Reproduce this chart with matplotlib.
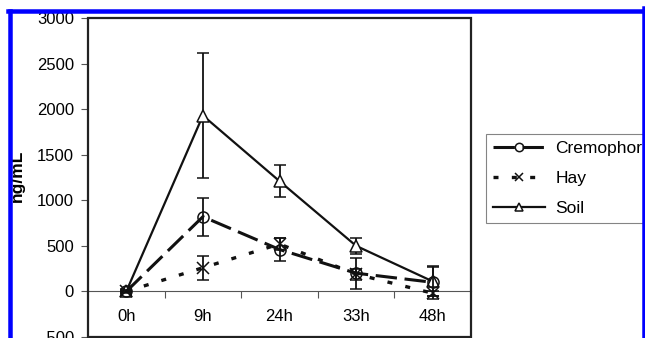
import matplotlib
matplotlib.use("Agg")
import matplotlib.pyplot as plt
from matplotlib.lines import Line2D
from matplotlib.patches import Rectangle

plt.rcParams['font.family'] = ['Liberation Sans', 'DejaVu Sans']

categories = ["0h", "9h", "24h", "33h", "48h"]
cremophor = [0, 820, 460, 200, 100]
cremophor_err = [20, 210, 130, 170, 180]
hay = [0, 260, 520, 190, -20]
hay_err = [10, 130, 70, 60, 30]
soil = [0, 1930, 1210, 500, 110]
soil_err = [30, 690, 175, 90, 160]
yticks = [-500, 0, 500, 1000, 1500, 2000, 2500, 3000]

W, H = 645, 338
fig = plt.figure(figsize=(W / 100, H / 100), dpi=100)
ax = fig.add_axes([88 / W, 1 - 337 / H, (471 - 88) / W, (337 - 18) / H])

x = list(range(len(categories)))
ebkw = dict(ecolor='#111111', elinewidth=1.3, capsize=4, capthick=1.3)

crem_style = dict(color='#111111', lw=2.2, dashes=(7, 2.5), marker='o', ms=8,
                  mfc='none', mec='#111111', mew=1.1)
hay_style = dict(color='#111111', lw=2.4, dashes=(1.5, 4), marker='x', ms=8,
                 mec='#111111', mew=1.1)
soil_style = dict(color='#111111', lw=1.6, ls='-', marker='^', ms=8,
                  mfc='white', mec='#111111', mew=1.1)

ax.errorbar(x, soil, yerr=soil_err, zorder=3, **soil_style, **ebkw)
ax.errorbar(x, cremophor, yerr=cremophor_err, zorder=4, **crem_style, **ebkw)
ax.errorbar(x, hay, yerr=hay_err, zorder=4, **hay_style, **ebkw)

ax.set_xlim(-0.5, len(categories) - 0.5)
ax.set_ylim(-500, 3000)
ax.set_yticks(yticks)
ax.set_yticklabels([str(v) for v in yticks])
ax.set_xticks(x)
ax.set_xticklabels(categories)
ax.set_xticks([i + 0.5 for i in range(len(categories) - 1)], minor=True)
ax.tick_params(axis='x', which='major', length=0, pad=13, labelsize=12)
ax.tick_params(axis='x', which='minor', length=5, width=0.8, color='#555555', direction='out')
ax.tick_params(axis='y', length=5, width=0.8, color='#555555', labelsize=12, pad=5)

for s in ['top', 'right', 'left']:
    ax.spines[s].set_visible(False)
ax.spines['bottom'].set_position(('data', 0))
ax.spines['bottom'].set_color('#555555')
ax.spines['bottom'].set_linewidth(0.8)
ax.add_patch(Rectangle((0, 0), 1, 1, transform=ax.transAxes, fill=False,
                       lw=1.6, ec='#222222', clip_on=False, zorder=5))

fig.text(17 / W, 1 - 176 / H, 'ng/mL', rotation=90, ha='center', va='center',
         fontsize=12.5, fontweight='bold')

leg_ms = 6
handles = [Line2D([], [], **{**crem_style, 'ms': leg_ms}),
           Line2D([], [], **{**hay_style, 'ms': leg_ms}),
           Line2D([], [], **{**soil_style, 'ms': leg_ms})]
labels = ['Cremophor', 'Hay', 'Soil']
leg = fig.legend(handles, labels,
                 loc='upper left', bbox_to_anchor=(486 / W, 1 - 134 / H),
                 frameon=True, fancybox=False, fontsize=12.5,
                 handlelength=3.0, handletextpad=0.6, labelspacing=0.85,
                 borderpad=0.4, borderaxespad=0)
leg.get_frame().set_edgecolor('#666666')
leg.get_frame().set_linewidth(0.8)

blue = '#0000ff'
lw_b = 4.5 * 72 / 100
fig.add_artist(Line2D([10 / W, 10 / W], [0, 1 - 10.5 / H], transform=fig.transFigure, color=blue, lw=lw_b, zorder=10))
fig.add_artist(Line2D([8 / W, 645 / W], [1 - 10.5 / H, 1 - 10.5 / H], transform=fig.transFigure, color=blue, lw=lw_b, zorder=10))
fig.add_artist(Line2D([643.5 / W, 643.5 / W], [0, 1 - 8 / H], transform=fig.transFigure, color=blue, lw=lw_b, zorder=10))

fig.savefig('out.png', dpi=100)
